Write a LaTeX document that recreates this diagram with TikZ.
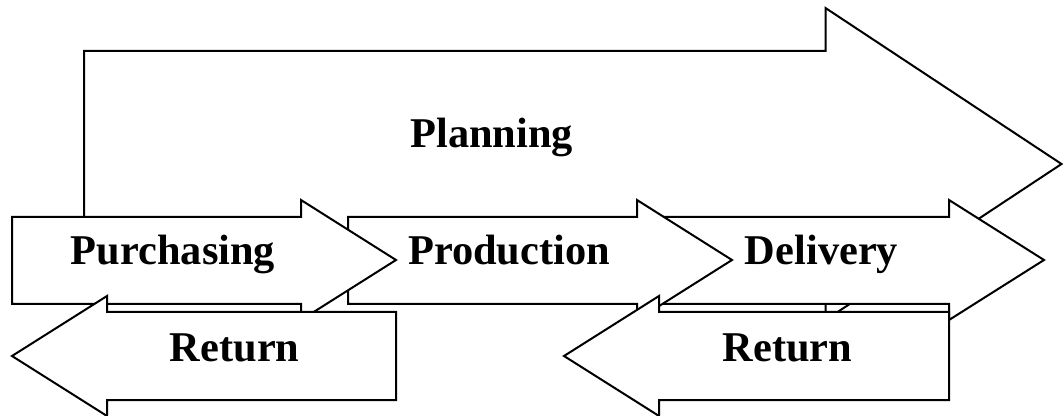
\documentclass[tikz,border=0pt]{standalone}
\usepackage{fontspec}
\setmainfont{Liberation Serif}
\usepackage{tikz}
\usetikzlibrary{positioning}
\tikzset{
  %%── block arrows ───────────────────────────────────────────
  blockarr/.style = {draw = black, fill = white, line width = 1pt, line join = miter},
  %%── labels ─────────────────────────────────────────────────
  lbl/.style = {anchor = base, inner sep = 0pt, font = \fontsize{21.2}{25}\selectfont\bfseries},
}

\begin{document}
\begin{tikzpicture}[x = 0.5pt, y = -0.5pt]
  \useasboundingbox (0,0) rectangle (1064,416);

  %% ── Planning (big arrow, at the back) ──────────────────
  \draw[blockarr] (84,51) -- (825.5,51) -- (825.5,8) -- (1061.5,164)
                  -- (825.5,320) -- (825.5,277) -- (84,277) -- cycle;

  %% ── forward flow: Delivery, Production, Purchasing ─────
  \foreach \xa/\xb/\xt in {660/949/1044, 348/637/732, 12/301/396}
    \draw[blockarr] (\xa,217) -- (\xb,217) -- (\xb,200) -- (\xt,260)
                    -- (\xb,320) -- (\xb,304) -- (\xa,304) -- cycle;

  %% ── backward flow: two Return arrows ───────────────────
  \foreach \xt/\xb/\xr in {12/107/396, 564/659/949}
    \draw[blockarr] (\xr,312) -- (\xb,312) -- (\xb,296) -- (\xt,356)
                    -- (\xb,416) -- (\xb,400) -- (\xr,400) -- cycle;

  %% ── labels ─────────────────────────────────────────────
  \node[lbl] (plan) at (491.7,148) {Planning};
  \node[lbl] (purch) at (173,265) {Purchasing};
  \node[lbl] (prod) at (509,265) {Production};
  \node[lbl] (deliv) at (821.5,265) {Delivery};
  \node[lbl] (retA) at (234.7,361) {Return};
  \node[lbl] (retB) at (787.5,361) {Return};

\end{tikzpicture}
\end{document}
